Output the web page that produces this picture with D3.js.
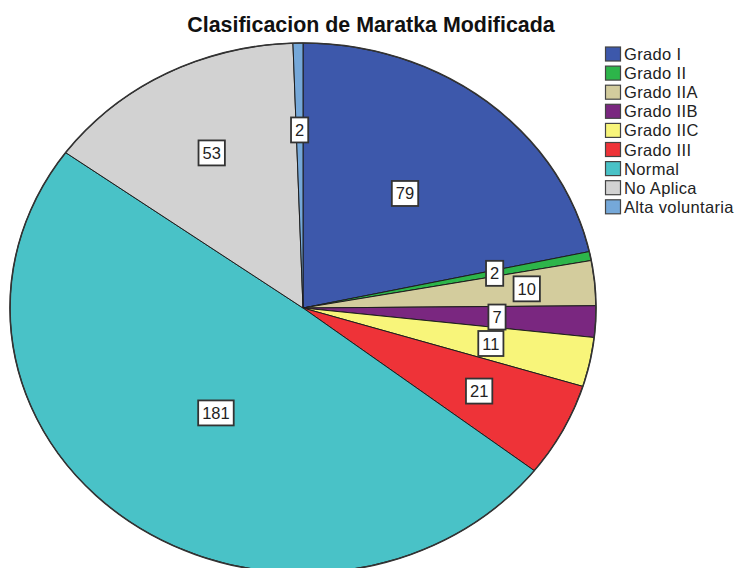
<!DOCTYPE html>
<html>
<head>
<meta charset="utf-8">
<script src="https://cdn.jsdelivr.net/npm/d3@7"></script>
<style>
  html, body { margin: 0; padding: 0; background: #fff; }
  svg { display: block; }
  text { font-family: "Liberation Sans", Arial, sans-serif; }
</style>
</head>
<body>
<svg id="chart" width="735" height="568"></svg>
<script>
// ---- data ----
const categories = ["Grado I", "Grado II", "Grado IIA", "Grado IIB", "Grado IIC", "Grado III", "Normal", "No Aplica", "Alta voluntaria"];
const counts = [79, 2, 10, 7, 11, 21, 181, 53, 2];
const colors = ["#3d58ab", "#2db54a", "#d3cc9d", "#7a2780", "#f8f57a", "#ee3338", "#49c2c7", "#d2d2d2", "#75a8d9"];
const titleText = "Clasificacion de Maratka Modificada";
// label distance from centre as a fraction of the radius (layout)
const labelRadius = [0.555, 0.667, 0.767, 0.663, 0.655, 0.678, 0.495, 0.663, 0.672];

// ---- layout ----
const svg = d3.select("#chart");
const cx = 303, cy = 308, rx = 293, ry = 265;

svg.append("text")
  .attr("x", 371).attr("y", 32)
  .attr("text-anchor", "middle")
  .attr("font-size", "21.4px")
  .attr("font-weight", "bold")
  .attr("fill", "#111")
  .text(titleText);

const data = categories.map((c, i) => ({ cat: c, value: counts[i], color: colors[i], lr: labelRadius[i] }));
const pie = d3.pie().sort(null).value(d => d.value).startAngle(0).endAngle(2 * Math.PI);
const arcs = pie(data);
const arc = d3.arc().innerRadius(0).outerRadius(rx);

const g = svg.append("g").attr("transform", `translate(${cx},${cy}) scale(1,${ry / rx})`);
g.selectAll("path.slice")
  .data(arcs)
  .enter().append("path")
  .attr("class", "slice")
  .attr("d", arc)
  .attr("fill", d => d.data.color)
  .attr("stroke", "#1e1e1e")
  .attr("stroke-width", 1)
  .attr("vector-effect", "non-scaling-stroke")
  .attr("stroke-linejoin", "round");

// outer rim
g.append("ellipse")
  .attr("cx", 0).attr("cy", 0).attr("rx", rx).attr("ry", rx)
  .attr("fill", "none")
  .attr("stroke", "#333")
  .attr("stroke-width", 1.6)
  .attr("vector-effect", "non-scaling-stroke");

// labels
const lg = svg.append("g");
arcs.forEach(a => {
  const mid = (a.startAngle + a.endAngle) / 2;
  const x = cx + a.data.lr * rx * Math.sin(mid);
  const y = cy - a.data.lr * ry * Math.cos(mid);
  const t = lg.append("text")
    .attr("x", x).attr("y", y)
    .attr("text-anchor", "middle")
    .attr("dominant-baseline", "central")
    .attr("font-size", "16.5px")
    .attr("fill", "#222")
    .text(a.data.value);
  const bb = t.node().getBBox();
  lg.insert("rect", () => t.node())
    .attr("x", x - bb.width / 2 - 4)
    .attr("y", y - 12.5)
    .attr("width", bb.width + 8)
    .attr("height", 25)
    .attr("fill", "#fff")
    .attr("stroke", "#333")
    .attr("stroke-width", 1.8);
});

// legend
const legend = svg.append("g").attr("transform", "translate(605,54)");
const rowH = 19.1;
const items = legend.selectAll("g.item").data(data).enter().append("g")
  .attr("class", "item")
  .attr("transform", (d, i) => `translate(0,${i * rowH})`);
items.append("rect")
  .attr("x", 0.5).attr("y", -7)
  .attr("width", 15).attr("height", 14)
  .attr("fill", d => d.color)
  .attr("stroke", "#444")
  .attr("stroke-width", 1.2);
items.append("text")
  .attr("x", 19).attr("y", 0)
  .attr("dominant-baseline", "central")
  .attr("font-size", "16.5px")
  .attr("letter-spacing", "0.35px")
  .attr("fill", "#222")
  .text(d => d.cat);
</script>
</body>
</html>
